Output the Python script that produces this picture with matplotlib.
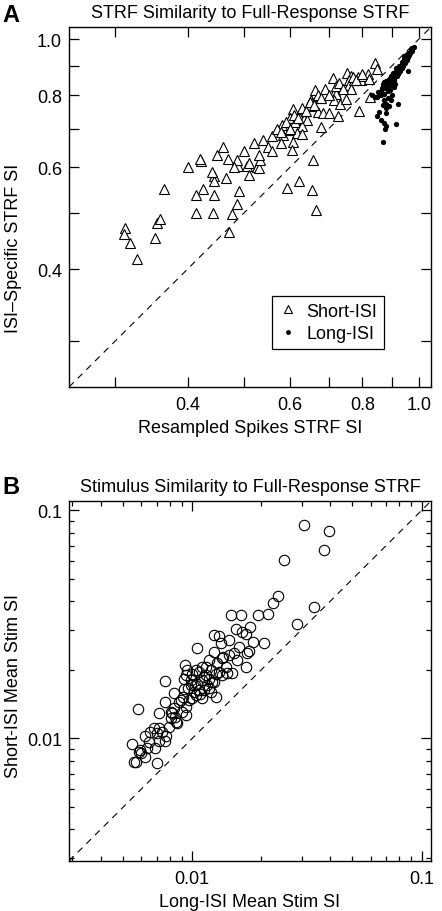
import matplotlib
matplotlib.use("Agg")
import matplotlib.pyplot as plt
from matplotlib.ticker import FixedLocator, FuncFormatter, LogLocator, NullFormatter
from matplotlib.lines import Line2D

plt.rcParams['font.family'] = ['Liberation Sans', 'DejaVu Sans']

# ---------------- Panel A data ----------------
short_x = [0.3125, 0.311, 0.318, 0.328, 0.352, 0.354, 0.359, 0.365, 0.414, 0.425,
           0.444, 0.444, 0.465, 0.445, 0.414, 0.443, 0.478, 0.486, 0.491, 0.471,
           0.488, 0.507, 0.510, 0.526, 0.532, 0.422, 0.487, 0.533,
           0.840, 0.848, 0.711, 0.753, 0.766, 0.758, 0.760, 0.765, 0.775, 0.785,
           0.794, 0.803, 0.817, 0.820, 0.826, 0.663, 0.652, 0.654, 0.650, 0.677,
           0.718, 0.721, 0.716, 0.733, 0.751, 0.788, 0.607, 0.601, 0.613, 0.625,
           0.635, 0.642, 0.630, 0.581, 0.601, 0.583, 0.617, 0.629, 0.608, 0.605,
           0.672, 0.684, 0.702, 0.725, 0.679, 0.659, 0.622, 0.593, 0.655, 0.665,
           0.40, 0.42, 0.45, 0.47, 0.50, 0.52, 0.54, 0.55, 0.56, 0.57,
           0.58, 0.59, 0.60, 0.61, 0.62, 0.63, 0.64, 0.65, 0.66, 0.67,
           0.68, 0.69, 0.70, 0.72, 0.73, 0.74, 0.77, 0.78, 0.80, 0.53,
           0.51, 0.48, 0.44, 0.56, 0.58, 0.46]
short_y = [0.471, 0.460, 0.444, 0.417, 0.452, 0.481, 0.489, 0.551, 0.537, 0.551,
           0.580, 0.569, 0.575, 0.538, 0.500, 0.501, 0.498, 0.519, 0.547, 0.463,
           0.604, 0.604, 0.582, 0.601, 0.598, 0.616, 0.618, 0.618,
           0.909, 0.887, 0.856, 0.873, 0.862, 0.850, 0.833, 0.819, 0.850, 0.860,
           0.850, 0.862, 0.871, 0.853, 0.794, 0.817, 0.785, 0.777, 0.767, 0.791,
           0.814, 0.804, 0.785, 0.771, 0.787, 0.752, 0.757, 0.732, 0.720, 0.732,
           0.728, 0.725, 0.709, 0.711, 0.697, 0.683, 0.688, 0.685, 0.665, 0.642,
           0.749, 0.746, 0.745, 0.735, 0.706, 0.618, 0.569, 0.552, 0.549, 0.507,
           0.60, 0.62, 0.63, 0.62, 0.64, 0.66, 0.67, 0.65, 0.68, 0.70,
           0.69, 0.72, 0.70, 0.74, 0.73, 0.76, 0.75, 0.78, 0.77, 0.80,
           0.79, 0.82, 0.80, 0.83, 0.84, 0.82, 0.86, 0.85, 0.87, 0.63,
           0.61, 0.60, 0.59, 0.64, 0.66, 0.65]

long_x = [0.980, 0.975, 0.970, 0.972, 0.965, 0.968, 0.960, 0.962, 0.955, 0.958,
          0.950, 0.953, 0.948, 0.945, 0.942, 0.946, 0.938, 0.940, 0.935, 0.932,
          0.936, 0.928, 0.930, 0.925, 0.922, 0.924, 0.918, 0.920, 0.915, 0.912,
          0.916, 0.910, 0.908, 0.905, 0.903, 0.906, 0.900, 0.898, 0.895, 0.893,
          0.890, 0.894, 0.888, 0.886, 0.884, 0.880, 0.878, 0.876, 0.872, 0.870,
          0.868, 0.865, 0.874, 0.882, 0.890, 0.898, 0.926, 0.944, 0.952, 0.935,
          0.913, 0.902,
          0.960, 0.922, 0.915, 0.867, 0.848, 0.860, 0.871, 0.880, 0.880, 0.885,
          0.848, 0.860, 0.855, 0.871, 0.880, 0.876, 0.894, 0.900, 0.885, 0.870,
          0.890, 0.895, 0.830, 0.840, 0.852, 0.860, 0.868, 0.905, 0.912, 0.878]
long_y = [0.970, 0.965, 0.960, 0.955, 0.950, 0.945, 0.945, 0.938, 0.935, 0.930,
          0.928, 0.922, 0.918, 0.925, 0.912, 0.908, 0.905, 0.898, 0.902, 0.895,
          0.890, 0.888, 0.882, 0.892, 0.885, 0.878, 0.875, 0.870, 0.880, 0.868,
          0.862, 0.872, 0.860, 0.866, 0.855, 0.850, 0.858, 0.848, 0.862, 0.852,
          0.845, 0.840, 0.855, 0.842, 0.835, 0.848, 0.838, 0.830, 0.842, 0.828,
          0.835, 0.822, 0.822, 0.825, 0.830, 0.835, 0.900, 0.935, 0.940, 0.915,
          0.890, 0.875,
          0.881, 0.773, 0.713, 0.665, 0.794, 0.800, 0.785, 0.773, 0.759, 0.790,
          0.735, 0.725, 0.749, 0.715, 0.708, 0.700, 0.817, 0.800, 0.815, 0.805,
          0.765, 0.785, 0.800, 0.795, 0.810, 0.815, 0.770, 0.825, 0.835, 0.745]

a_ticks = [0.3, 0.4, 0.5, 0.6, 0.7, 0.8, 0.9, 1.0]
a_labels = {0.4: "0.4", 0.6: "0.6", 0.8: "0.8", 1.0: "1.0"}
a_lim = (0.25, 1.05)

# ---------------- Panel B data ----------------
long_stim = [0.01472, 0.01639, 0.01927, 0.01549, 0.01656, 0.01712, 0.01782, 0.01244, 0.01309, 0.01447,
             0.0133, 0.01052, 0.01832, 0.01244, 0.01353, 0.01183, 0.00929, 0.01106, 0.01034, 0.00935,
             0.0100, 0.01144, 0.01183, 0.01223, 0.01052, 0.00983, 0.00919, 0.00764, 0.00831, 0.00919,
             0.01017, 0.0107, 0.01125, 0.01265, 0.0100, 0.00967, 0.01106, 0.00764, 0.00831, 0.00818,
             0.00715, 0.00804, 0.00860, 0.0079, 0.00935, 0.0058, 0.0068, 0.00657, 0.0062, 0.00703,
             0.00764, 0.00715, 0.00546, 0.00594, 0.00635, 0.0060, 0.00691, 0.0062, 0.00555, 0.00569,
             0.00703, 0.0308, 0.0394, 0.0376, 0.0252, 0.0236, 0.0226, 0.0338, 0.0286, 0.0213,
             0.0206, 0.0177, 0.0174, 0.01574, 0.01712, 0.0145, 0.0149, 0.01353, 0.01423,
             0.00951, 0.0107, 0.01203, 0.01265, 0.00983, 0.01106, 0.01163, 0.01034, 0.01203, 0.01309,
             0.0140, 0.0091, 0.00874, 0.00804, 0.00845, 0.00904, 0.00715, 0.00739, 0.00646, 0.00584,
             0.0103, 0.0112, 0.0118, 0.0096, 0.0089, 0.0128, 0.0136, 0.0115, 0.0108, 0.0094,
             0.0085, 0.0077, 0.0160, 0.0152, 0.0124]
short_stim = [0.0347, 0.0349, 0.0349, 0.0301, 0.0293, 0.0288, 0.0308, 0.0284, 0.0282, 0.0270,
              0.0261, 0.0248, 0.0265, 0.0240, 0.02256, 0.02218, 0.02096, 0.0206, 0.0199, 0.01894,
              0.01926, 0.01894, 0.01831, 0.0177, 0.01741, 0.01712, 0.01831, 0.01783, 0.01585, 0.01644,
              0.0160, 0.01628, 0.01628, 0.01522, 0.01497, 0.01472, 0.01497, 0.01447, 0.01353, 0.01287,
              0.01287, 0.01223, 0.01163, 0.01125, 0.01265, 0.0134, 0.01106, 0.0107, 0.01027, 0.01052,
              0.00973, 0.00973, 0.00945, 0.00889, 0.00904, 0.0086, 0.00904, 0.00831, 0.00785, 0.0079,
              0.00782, 0.0860, 0.0810, 0.0668, 0.0608, 0.0420, 0.0393, 0.0377, 0.0317, 0.0350,
              0.0261, 0.0242, 0.0238, 0.0220, 0.0206, 0.0232, 0.0193, 0.01894, 0.01945,
              0.01992, 0.01959, 0.01992, 0.01926, 0.0180, 0.0180, 0.01712, 0.01549, 0.0160, 0.01959,
              0.0206, 0.01522, 0.01447, 0.01309, 0.01244, 0.01309, 0.01106, 0.0107, 0.00967, 0.00874,
              0.0172, 0.0186, 0.0167, 0.0166, 0.0148, 0.0214, 0.0228, 0.0205, 0.0156, 0.0138,
              0.0118, 0.0102, 0.0252, 0.0236, 0.0176]
b_lim = (0.0029, 0.11)

# ---------------- Figure ----------------
fig = plt.figure(figsize=(4.42, 9.12), dpi=100)
axA = fig.add_axes([69/442, 1 - 388/912, 362/442, 360/912])
axB = fig.add_axes([69/442, 1 - 862/912, 362/442, 360/912])

FS = 13

def style(ax):
    for s in ax.spines.values():
        s.set_linewidth(1.0)
        s.set_color('black')
    ax.tick_params(which='both', direction='in', top=True, right=True,
                   labelsize=FS, width=0.9, color='black')
    ax.tick_params(which='major', length=7)
    ax.tick_params(which='minor', length=3.5)
    ax.tick_params(axis='x', pad=6.5)
    ax.tick_params(axis='y', pad=5)

# Panel A
axA.set_xscale('log'); axA.set_yscale('log')
axA.set_xlim(*a_lim); axA.set_ylim(*a_lim)
axA.plot(a_lim, a_lim, ls=(0, (6, 5)), color='black', lw=0.8)
axA.plot(short_x, short_y, ls='none', marker='^', ms=7.5, mfc='white', mec='black', mew=0.8)
axA.plot(long_x, long_y, ls='none', marker='o', ms=3.8, mfc='black', mec='black', mew=0)
fmtA = FuncFormatter(lambda v, p: a_labels.get(round(v, 2), ""))
for axis in (axA.xaxis, axA.yaxis):
    axis.set_major_locator(FixedLocator(a_ticks))
    axis.set_major_formatter(fmtA)
    axis.set_minor_locator(FixedLocator([]))
style(axA)
axA.set_title("STRF Similarity to Full-Response STRF", fontsize=FS, pad=7.5)
axA.set_xlabel("Resampled Spikes STRF SI", fontsize=FS, labelpad=4)
axA.set_ylabel("ISI\u2013Specific STRF SI", fontsize=FS)
axA.yaxis.set_label_coords(-0.13, 0.389)
handles = [Line2D([], [], ls='none', marker='^', ms=6, mfc='white', mec='black', mew=0.8),
           Line2D([], [], ls='none', marker='o', ms=3.5, mfc='black', mec='black', mew=0)]
leg = axA.legend(handles, ["Short-ISI", "Long-ISI"], loc='upper left',
                 bbox_to_anchor=(0.56, 0.254), fontsize=FS, frameon=True, fancybox=False,
                 edgecolor='black', framealpha=1, handlelength=1.0, handletextpad=0.5,
                 borderpad=0.4, labelspacing=0.3, borderaxespad=0)
leg.get_frame().set_linewidth(0.9)

# Panel B
axB.set_xscale('log'); axB.set_yscale('log')
axB.set_xlim(*b_lim); axB.set_ylim(*b_lim)
axB.plot(b_lim, b_lim, ls=(0, (6, 5)), color='black', lw=0.8)
axB.plot(long_stim, short_stim, ls='none', marker='o', ms=7.5, mfc='none', mec='black', mew=0.8)
fmtB = FuncFormatter(lambda v, p: {0.01: "0.01", 0.1: "0.1"}.get(round(v, 4), ""))
for axis in (axB.xaxis, axB.yaxis):
    axis.set_major_locator(FixedLocator([0.01, 0.1]))
    axis.set_major_formatter(fmtB)
    axis.set_minor_locator(LogLocator(base=10, subs=[2, 3, 4, 5, 6, 7, 8, 9]))
    axis.set_minor_formatter(NullFormatter())
style(axB)
axB.set_title("Stimulus Similarity to Full-Response STRF", fontsize=FS, pad=7.5)
axB.set_xlabel("Long-ISI Mean Stim SI", fontsize=FS, labelpad=4)
axB.set_ylabel("Short-ISI Mean Stim SI", fontsize=FS)
axB.yaxis.set_label_coords(-0.13, 0.49)

fig.text(2/442, 1 - 4/912, "A", fontsize=17, fontweight='bold', ha='left', va='top')
fig.text(2/442, 1 - 476/912, "B", fontsize=17, fontweight='bold', ha='left', va='top')

fig.savefig("out.png", dpi=100)
